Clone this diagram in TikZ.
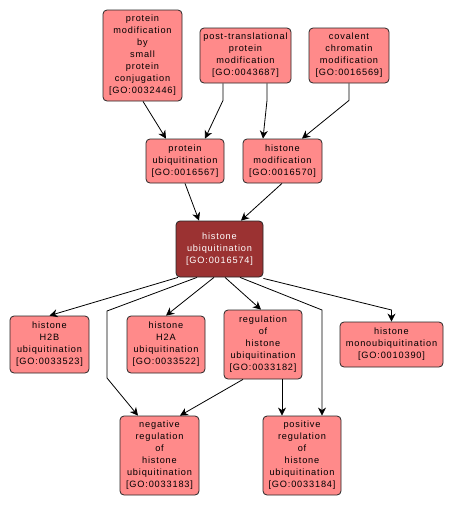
\documentclass[tikz,border=0pt]{standalone}
\usepackage{fontspec}
\setmainfont{Liberation Sans}[LetterSpace=9]
\usetikzlibrary{arrows.meta}
\definecolor{gofill}{RGB}{255,138,138}
\definecolor{godark}{RGB}{155,50,50}
\definecolor{gotext}{RGB}{0,0,0}
\tikzset{
  go/.style={draw=black!85, line width=0.8pt, fill=gofill, rounded corners=4pt,
    align=center, inner sep=0pt, text=gotext,
    font=\fontsize{9.2}{12}\selectfont},
  godk/.style={go, fill=godark, text=white},
  arr/.style={draw=black, line width=0.8pt, -{Stealth[length=8pt,width=8pt,inset=2.5pt]}}
}
\begin{document}
\begin{tikzpicture}[x=1pt,y=-1pt]
\useasboundingbox (0,0) rectangle (453,507);
\node[go, minimum width=79pt, minimum height=91pt] (n1) at (142.5,55.5) {protein\\modification\\by\\small\\protein\\conjugation\\{[}GO:0032446{]}};
\node[go, minimum width=91pt, minimum height=55pt] (n2) at (245.5,55.5) {post-translational\\protein\\modification\\{[}GO:0043687{]}};
\node[go, minimum width=80pt, minimum height=55pt] (n3) at (349,55.5) {covalent\\chromatin\\modification\\{[}GO:0016569{]}};
\node[go, minimum width=78pt, minimum height=44pt] (n4) at (185,161) {protein\\ubiquitination\\{[}GO:0016567{]}};
\node[go, minimum width=79pt, minimum height=44pt] (n5) at (282.5,161) {histone\\modification\\{[}GO:0016570{]}};
\node[godk, minimum width=87pt, minimum height=56pt] (n6) at (219.5,249) {histone\\ubiquitination\\{[}GO:0016574{]}};
\node[go, minimum width=79pt, minimum height=57pt] (n7) at (49.5,344.5) {histone\\H2B\\ubiquitination\\{[}GO:0033523{]}};
\node[go, minimum width=78pt, minimum height=57pt] (n8) at (166,344.5) {histone\\H2A\\ubiquitination\\{[}GO:0033522{]}};
\node[go, minimum width=79pt, minimum height=79pt] (n9) at (159.5,455.5) {negative\\regulation\\of\\histone\\ubiquitination\\{[}GO:0033183{]}};
\node[go, minimum width=78pt, minimum height=69pt] (n10) at (263,344.5) {regulation\\of\\histone\\ubiquitination\\{[}GO:0033182{]}};
\node[go, minimum width=103pt, minimum height=45pt] (n11) at (391.5,344.5) {histone\\monoubiquitination\\{[}GO:0010390{]}};
\node[go, minimum width=78pt, minimum height=79pt] (n12) at (302,455.5) {positive\\regulation\\of\\histone\\ubiquitination\\{[}GO:0033184{]}};

\draw[arr] ([xshift=0.5pt]n1.south) -- ([xshift=-19pt]n4.north);
\draw[arr] ([xshift=-22.5pt]n2.south) -- ++(0,17) -- ([xshift=20pt]n4.north);
\draw[arr] ([xshift=21.5pt]n2.south) -- ++(0,17) -- ([xshift=-19.5pt]n5.north);
\draw[arr] (n3.south) -- ++(0,17) -- ([xshift=19.5pt]n5.north);
\draw[arr] (n4.south) -- ([xshift=-20.5pt]n6.north);
\draw[arr] ([xshift=-0.5pt]n5.south) -- ([xshift=21.5pt]n6.north);
\draw[arr] ([xshift=-41.5pt]n6.south) -- (n7.north);
\draw[arr] ([xshift=-22.5pt]n6.south) -- (107,311) -- (107,378) -- ([xshift=-21.5pt]n9.north);
\draw[arr] ([xshift=-5.5pt]n6.south) -- (n8.north);
\draw[arr] ([xshift=5.5pt]n6.south) -- ([xshift=-2pt]n10.north);
\draw[arr] ([xshift=20.5pt]n6.south) -- (322,310) -- ([xshift=20pt]n12.north);
\draw[arr] ([yshift=-1pt]n6.south east) -- (391.5,310) -- (n11.north);
\draw[arr] ([xshift=-20pt]n10.south) -- ([xshift=20.5pt]n9.north);
\draw[arr] ([xshift=19pt]n10.south) -- ([xshift=-20pt]n12.north);
\end{tikzpicture}
\end{document}
